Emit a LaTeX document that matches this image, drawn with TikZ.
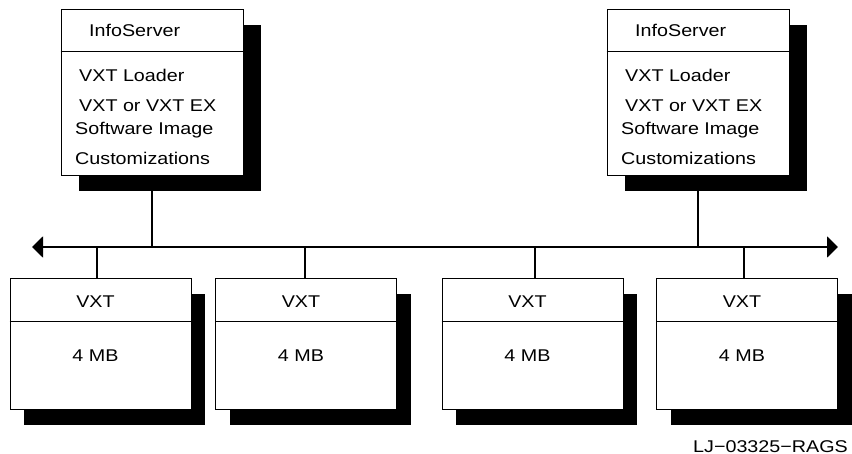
\documentclass[tikz,border=0pt]{standalone}
\usepackage{fontspec}
\setmainfont{Liberation Sans}[FakeStretch=1.16]
\usetikzlibrary{arrows.meta}
\tikzset{
  textlabel/.style={inner sep=0pt,font=\fontsize{17}{20}\selectfont},
  srvbox/.style={draw,fill=white,line width=1pt,inner sep=0pt,minimum width=182pt,minimum height=166pt},
  vxtbox/.style={draw,fill=white,line width=1pt,inner sep=0pt,minimum width=181pt,minimum height=131pt},
  shade/.style={fill=black,inner sep=0pt},
  divider/.style={line width=1pt},
  stem/.style={line width=1.8pt},
  bus/.style={line width=2pt,{Triangle[length=11pt,width=21pt]}-{Triangle[length=11pt,width=21pt]}}
}

\begin{document}
\begin{tikzpicture}[x=1pt,y=-1pt]
\useasboundingbox (0,0) rectangle (852,454);

% servers
\foreach \n/\x in {srvL/152,srvR/698}{
  \node[shade,minimum width=182pt,minimum height=166pt] (\n-sh) at (\x+18,108) {};
  \node[srvbox] (\n) at (\x,93) {};
  \draw[divider] (\n.west |- 0,52) -- (\n.east |- 0,52);
  \node[textlabel,anchor=base west] (\n-name) at (\x-63,36.5) {InfoServer};
  \node[textlabel,anchor=base west] (\n-load) at (\x-73,81.7) {VXT Loader};
  \node[textlabel,anchor=base west] (\n-img) at (\x-73,111.7) {VXT or VXT EX};
  \node[textlabel,anchor=base west] (\n-sw) at (\x-77,135) {Software Image};
  \node[textlabel,anchor=base west] (\n-cust) at (\x-77,165) {Customizations};
}

% network
\coordinate (busW) at (32,247);
\coordinate (busE) at (838,247);
\draw[bus] (busW) -- (busE);
\draw[stem] (srvL.south |- srvL-sh.south) -- (srvL.south |- busW);
\draw[stem] (srvR.south |- srvR-sh.south) -- (srvR.south |- busW);

% terminals
\foreach \n/\x/\s in {vxtA/100.5/97,vxtB/306/305,vxtC/532.5/535,vxtD/747/744}{
  \node[shade,minimum width=181pt,minimum height=131pt] (\n-sh) at (\x+14,359.5) {};
  \node[vxtbox] (\n) at (\x,344.5) {};
  \draw[divider] (\n.west |- 0,322) -- (\n.east |- 0,322);
  \node[textlabel,anchor=base] (\n-type) at (\x-5,308) {VXT};
  \node[textlabel,anchor=base] (\n-mem) at (\x-5,362) {4 MB};
  \draw[stem] (\n.north -| \s,0) -- (\s,0 |- busW);
}

\node[textlabel,anchor=base east] (ref) at (848,452) {LJ−03325−RAGS};
\end{tikzpicture}
\end{document}
